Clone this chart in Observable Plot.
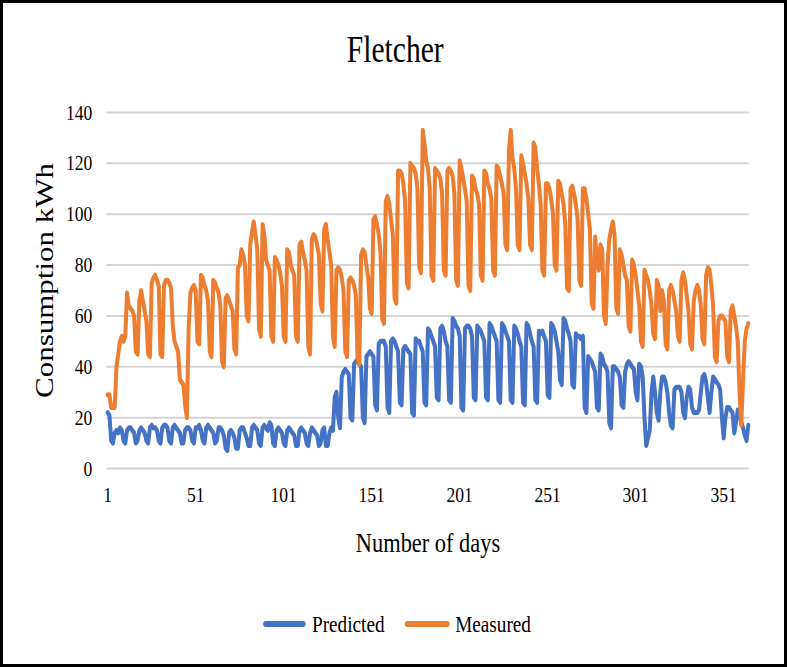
<!DOCTYPE html>
<html>
<head>
<meta charset="utf-8">
<script src="https://cdn.jsdelivr.net/npm/d3@7"></script>
<script src="https://cdn.jsdelivr.net/npm/@observablehq/plot@0.6"></script>
<style>
  html, body { margin: 0; padding: 0; background: #fff; }
  #page { position: relative; width: 787px; height: 667px; overflow: hidden; background: #fff; }
  /* the whole figure is laid out wide, then narrowed for the condensed serif look */
  #squeeze { position: absolute; left: 0; top: 0; width: 984px; height: 667px;
             transform: scaleX(0.8); transform-origin: 0 0;
             font-family: "Liberation Serif", "Times New Roman", serif; color: #000; }
  #title { position: absolute; left: 0; width: 988px; top: 31px; text-align: center;
           font-size: 37px; line-height: 37px; }
  #chart { position: absolute; left: 0; top: 90px; }
  .leg { position: absolute; top: 612px; font-size: 24px; line-height: 24px; white-space: nowrap; }
  .sw { position: absolute; top: 621px; height: 6px; border-radius: 3px; }
  #border { position: absolute; left: 0; top: 0; width: 787px; height: 667px;
            border: 3px solid #000; box-sizing: border-box; pointer-events: none; }
</style>
</head>
<body>
<div id="page">
  <div id="squeeze">
    <div id="title">Fletcher</div>
    <div id="chart"></div>
    <div class="sw" style="left:329px;width:53px;background:#4472C4"></div>
    <div class="leg" style="left:390px">Predicted</div>
    <div class="sw" style="left:506px;width:56px;background:#ED7D31"></div>
    <div class="leg" style="left:569px">Measured</div>
  </div>
  <div id="border"></div>
</div>
<script>
// Daily consumption (kWh), day 1 to day 365
const predicted = [
  22, 21, 11, 10, 14, 15, 14,
  16, 15, 11, 10, 15, 16, 16,
  15, 14, 10, 11, 15, 16, 15,
  14, 11, 10, 16, 17, 16, 16,
  15, 11, 10, 16, 17, 17, 16,
  11, 10, 16, 17, 16, 15, 14,
  10, 10, 15, 16, 16, 15, 11,
  10, 16, 16, 17, 15, 11, 10,
  16, 17, 16, 15, 14, 10, 11,
  16, 16, 15, 13, 8, 7, 14,
  15, 14, 12, 8, 8, 15, 16,
  16, 14, 12, 9, 9, 16, 17,
  16, 15, 10, 9, 16, 17, 16,
  15, 18, 17, 10, 9, 15, 16,
  15, 14, 10, 9, 15, 16, 15,
  14, 13, 9, 9, 15, 16, 15,
  14, 10, 9, 14, 16, 15, 14,
  13, 9, 10, 15, 16, 9, 9,
  14, 16, 15, 28, 30, 20, 16,
  36, 38, 39, 38, 37, 20, 19,
  41, 42, 43, 41, 40, 20, 18,
  44, 45, 46, 45, 44, 25, 23,
  49, 50, 50, 50, 48, 24, 22,
  50, 51, 50, 48, 46, 26, 25,
  47, 48, 47, 46, 45, 22, 21,
  51, 50, 50, 48, 46, 26, 25,
  55, 54, 52, 50, 48, 28, 27,
  55, 56, 54, 50, 48, 27, 26,
  59, 58, 56, 55, 52, 24, 23,
  55, 56, 56, 55, 52, 28, 27,
  56, 55, 54, 52, 50, 28, 27,
  57, 56, 54, 52, 50, 27, 26,
  57, 56, 54, 52, 50, 27, 26,
  56, 55, 53, 50, 48, 26, 25,
  57, 56, 53, 50, 48, 27, 26,
  54, 53, 54, 52, 50, 29, 28,
  57, 56, 54, 50, 46, 35, 33,
  59, 58, 55, 53, 50, 33, 32,
  53, 52, 52, 51, 52, 24, 22,
  44, 43, 42, 40, 38, 24, 23,
  45, 44, 41, 40, 38, 18, 16,
  40, 40, 39, 38, 36, 25, 24,
  38, 41, 42, 41, 40, 39, 30,
  27, 41, 40, 36, 20, 9, 12,
  15, 30, 36, 30, 22, 19, 30,
  36, 36, 34, 30, 22, 17, 16,
  31, 32, 32, 32, 30, 22, 20,
  28, 32, 31, 24, 22, 22, 22,
  23, 30, 36, 37, 34, 28, 22,
  30, 36, 35, 34, 33, 31, 20,
  12, 20, 24, 24, 23, 22, 14,
  18, 23, 22, 18, 16, 13, 11,
  17
];

const measured = [
  29, 29, 24, 24,
  24, 40, 45, 50, 52, 50, 52,
  69, 64, 63, 62, 60, 46, 45,
  66, 70, 66, 62, 58, 45, 44,
  73, 75, 76, 74, 72, 45, 44,
  72, 74, 74, 73, 71, 56, 50,
  48, 46, 35, 34, 33, 25, 20,
  55, 69, 71, 72, 70, 50, 49,
  76, 75, 72, 70, 66, 46, 44,
  74, 73, 71, 69, 64, 42, 40,
  67, 68, 66, 64, 62, 47, 45,
  79, 80, 86, 84, 80, 60, 58,
  88, 93, 97, 92, 86, 55, 52,
  96, 92, 82, 80, 78, 52, 50,
  83, 82, 80, 77, 72, 52, 50,
  86, 85, 80, 78, 76, 52, 50,
  88, 89, 85, 82, 78, 48, 45,
  90, 92, 91, 88, 84, 65, 62,
  94, 96, 90, 85, 80, 52, 48,
  78, 79, 78, 75, 70, 46, 44,
  74, 75, 74, 72, 68, 43, 41,
  84, 86, 85, 80, 75, 63, 61,
  98, 99, 96, 92, 85, 59, 57,
  105, 107, 104, 98, 92, 67, 65,
  117, 117, 116, 112, 105, 73, 71,
  120, 119, 118, 116, 110, 79, 77,
  133, 128, 121, 118, 110, 76, 74,
  118, 117, 116, 114, 108, 78, 76,
  117, 118, 117, 115, 108, 74, 72,
  121, 118, 114, 110, 105, 72, 70,
  115, 114, 110, 108, 104, 76, 74,
  117, 116, 112, 110, 106, 78, 76,
  119, 118, 115, 112, 108, 88, 86,
  125, 133, 122, 118, 110, 88, 86,
  123, 120, 116, 112, 106, 88, 86,
  128, 126, 118, 112, 104, 78, 76,
  112, 112, 110, 106, 100, 80, 78,
  113, 112, 108, 104, 96, 71, 70,
  110, 111, 108, 104, 98, 74, 72,
  110, 110, 106, 100, 94, 65, 63,
  91, 82, 78, 88, 86, 60, 57,
  80, 90, 94, 97, 92, 63, 61,
  86, 84, 80, 76, 74, 56, 54,
  82, 80, 76, 70, 64, 50, 48,
  78, 76, 74, 70, 64, 53, 51,
  74, 72, 62, 70, 66, 49, 47,
  70, 72, 70, 66, 62, 52, 50,
  74, 77, 74, 68, 62, 49, 47,
  66, 70, 72, 70, 64, 51, 49,
  76, 79, 78, 72, 64, 44, 42,
  58, 60, 60, 59, 58, 44, 42,
  62, 64, 60, 56, 50, 30, 17,
  35, 50, 55, 57
];

const days = d3.range(1, predicted.length + 1);
const xTicks = [1, 51, 101, 151, 201, 251, 301, 351];
const yTicks = [0, 20, 40, 60, 80, 100, 120, 140];

const rows = days.map((d, i) => ({day: d, predicted: predicted[i], measured: measured[i]}));

const lineStyle = {strokeWidth: 5, strokeLinejoin: "round", strokeLinecap: "round"};

const chart = Plot.plot({
  width: 984,
  height: 480,
  marginTop: 22,
  marginBottom: 102,
  marginLeft: 133,
  marginRight: 48,
  style: {fontFamily: "'Liberation Serif', 'Times New Roman', serif", fontSize: "22px", color: "#000", background: "transparent", overflow: "visible"},
  x: {domain: [0.5, 365.5]},
  y: {domain: [0, 140]},
  marks: [
    Plot.gridY(yTicks, {stroke: "#d4d4d4", strokeOpacity: 1, strokeWidth: 2}),
    Plot.axisY(yTicks, {tickSize: 0, tickPadding: 18, fontSize: 22, label: null}),
    Plot.axisX(xTicks, {tickSize: 0, tickPadding: 18, fontSize: 22, label: null, tickFormat: d => String(d)}),
    Plot.lineY(rows, {x: "day", y: "predicted", stroke: "#4472C4", ...lineStyle}),
    Plot.lineY(rows, {x: "day", y: "measured", stroke: "#ED7D31", ...lineStyle}),
    Plot.text(["Consumption kWh"], {frameAnchor: "left", textAnchor: "middle", rotate: -90, dx: -77, dy: -10, fontSize: 31}),
    Plot.text(["Number of days"], {frameAnchor: "bottom", lineAnchor: "top", dy: 64, fontSize: 28})
  ]
});

document.getElementById("chart").appendChild(chart);
</script>
</body>
</html>
